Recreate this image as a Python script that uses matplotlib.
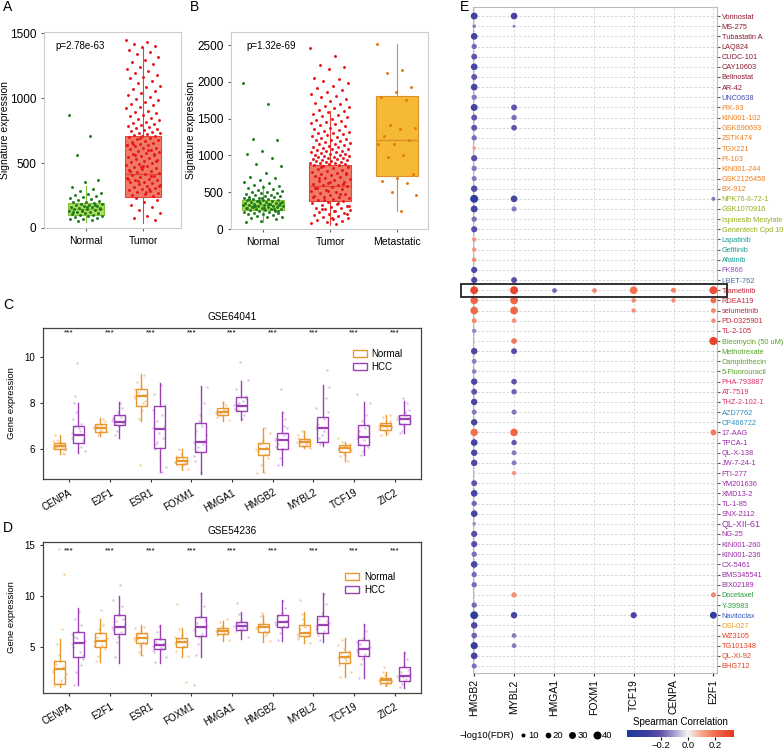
import numpy as np
import matplotlib
matplotlib.use("Agg")
import matplotlib.pyplot as plt
import matplotlib.transforms as mtransforms
from matplotlib.colors import LinearSegmentedColormap, Normalize
from matplotlib.patches import Rectangle, Patch

plt.rcParams['font.family'] = ['Liberation Sans', 'DejaVu Sans']

# ---------------- panel A / B : signature expression ----------------
a_groups = ['Normal', 'Tumor']
a_pvalue = 'p=2.78e-63'
# (whislo, q1, med, q3, whishi)
a_boxes = [(45, 100, 145, 191, 320), (40, 240, 418, 706, 1390)]
a_normal_pts = [872, 705, 560, 372, 355, 318, 300, 286, 272, 262, 251, 243, 236, 228, 221,
                214, 209, 203, 198, 193, 188, 184, 179, 174, 171, 166, 162, 158, 155, 151,
                147, 143, 139, 134, 130, 126, 122, 117, 113, 108, 103, 98, 94, 89, 84, 79,
                73, 67, 60, 52, 145, 160, 120, 180, 135]
a_tumor_pts = [1448, 1436, 1421, 1405, 1398, 1372, 1355, 1340, 1318, 1296, 1282, 1265, 1240,
               1228, 1206, 1195, 1178, 1160, 1152, 1131, 1118, 1096, 1083, 1070, 1052, 1040,
               1021, 1008, 996, 985, 972, 958, 944, 930, 921, 905, 896, 884, 872, 861, 850,
               843, 832, 820, 811, 803, 795, 786, 778, 770, 763, 755, 748, 741, 735, 729, 722,
               716, 712, 708, 702, 695, 688, 680, 673, 665, 658, 650, 643, 636, 628, 620, 613,
               606, 598, 590, 583, 575, 568, 561, 553, 546, 538, 531, 523, 516, 508, 500, 493,
               486, 478, 471, 463, 456, 448, 441, 433, 426, 418, 411, 403, 396, 388, 381, 373,
               366, 358, 351, 343, 336, 328, 321, 313, 306, 298, 291, 283, 276, 268, 261, 253,
               246, 690, 640, 600, 560, 520, 480, 440, 400, 360, 320, 280, 650, 570, 470, 380,
               300, 232, 215, 198, 176, 158, 137, 118, 96, 78, 62]

b_groups = ['Normal', 'Tumor', 'Metastatic']
b_pvalue = 'p=1.32e-69'
b_boxes = [(100, 263, 330, 400, 600), (60, 380, 580, 870, 1600), (250, 720, 1208, 1805, 2520)]
b_normal_pts = [1985, 1695, 1225, 1205, 1055, 1025, 965, 880, 855, 760, 705, 690, 660, 640, 625,
                600, 585, 570, 560, 548, 535, 522, 510, 500, 492, 485, 476, 468, 460, 452, 445,
                438, 430, 424, 418, 412, 406, 400, 395, 390, 384, 379, 374, 369, 364, 358, 353,
                348, 343, 338, 333, 328, 323, 318, 313, 308, 303, 298, 293, 288, 283, 278, 272,
                266, 260, 254, 248, 242, 236, 229, 222, 215, 207, 199, 190, 180, 170, 158, 145,
                130, 115, 100, 335, 310, 360, 290, 410, 270, 380, 320, 345, 300, 250, 420, 285]
b_tumor_pts = [2460, 2355, 2235, 2200, 2180, 2060, 2045, 2010, 1985, 1940, 1915, 1890, 1860,
               1835, 1815, 1790, 1770, 1740, 1715, 1700, 1680, 1660, 1640, 1615, 1600, 1590,
               1570, 1555, 1540, 1520, 1500, 1485, 1470, 1455, 1440, 1425, 1410, 1395, 1380,
               1365, 1350, 1338, 1325, 1312, 1300, 1288, 1275, 1262, 1250, 1240, 1228, 1216,
               1205, 1195, 1184, 1173, 1162, 1152, 1142, 1132, 1122, 1112, 1103, 1094, 1085,
               1076, 1067, 1058, 1050, 1042, 1034, 1026, 1018, 1010, 1002, 995, 988, 981, 974,
               967, 960, 953, 946, 940, 934, 928, 922, 916, 910, 904, 898, 892, 886, 880, 875,
               865, 855, 842, 830, 818, 805, 792, 780, 768, 755, 742, 730, 718, 705, 692, 680,
               668, 655, 642, 630, 618, 605, 592, 580, 568, 555, 542, 530, 518, 505, 492, 480,
               468, 455, 442, 430, 418, 405, 392, 380, 368, 355, 342, 330, 318, 305, 292, 280,
               268, 255, 242, 230, 218, 205, 192, 180, 168, 155, 140, 125, 110, 95, 80, 65,
               850, 760, 640, 560, 470, 390, 310, 240, 700, 610, 520, 430, 350, 270, 200, 150]
b_met_pts = [2520, 2160, 2120, 1935, 1865, 1800, 1760, 1420, 1380, 1365, 1265, 1210, 1160, 1150,
             1000, 975, 745, 700, 650, 620, 500, 460, 250]

# ---------------- panel C / D : gene expression ----------------
genes = ['CENPA', 'E2F1', 'ESR1', 'FOXM1', 'HMGA1', 'HMGB2', 'MYBL2', 'TCF19', 'ZIC2']
c_title = 'GSE64041'
c_normal_box = [(5.8, 6.0, 6.14, 6.25, 6.6), (6.55, 6.75, 6.9, 7.07, 7.35), (7.2, 7.86, 8.29, 8.6, 9.25),
                (5.1, 5.33, 5.48, 5.64, 6.0), (7.2, 7.48, 7.62, 7.77, 8.05), (5.01, 5.74, 6.0, 6.25, 6.91),
                (6.05, 6.14, 6.3, 6.42, 6.8), (5.5, 5.86, 6.03, 6.17, 6.3), (6.6, 6.85, 7.0, 7.15, 7.5)]
c_hcc_box = [(5.85, 6.25, 6.61, 7.0, 8.0), (6.5, 7.04, 7.19, 7.48, 8.05), (5.0, 6.04, 6.87, 7.87, 8.87),
             (4.9, 5.87, 6.32, 7.13, 8.75), (7.25, 7.65, 7.88, 8.27, 8.95), (5.3, 6.0, 6.38, 6.68, 7.61),
             (6.15, 6.32, 6.9, 7.38, 8.78), (5.74, 6.17, 6.51, 7.04, 8.06), (6.7, 7.1, 7.3, 7.5, 8.1)]
c_normal_pts = {
    'CENPA': [6.05, 6.2, 6.1, 5.95, 6.3, 6.15, 5.85, 6.4, 6.0, 6.25, 6.6, 5.8, 6.12, 6.35, 6.08],
    'E2F1': [6.9, 6.8, 7.0, 7.1, 6.85, 6.95, 7.3, 6.6, 6.75, 7.05, 6.92, 7.2, 6.7, 6.98],
    'ESR1': [8.3, 8.0, 8.5, 7.9, 8.7, 8.2, 9.2, 7.3, 8.4, 7.7, 8.9, 8.1, 5.3, 8.6, 8.35],
    'FOXM1': [5.45, 5.35, 5.6, 5.5, 5.25, 5.7, 5.4, 6.0, 5.15, 5.55, 5.3, 5.5, 5.8, 5.42],
    'HMGA1': [7.6, 7.7, 7.5, 7.8, 7.65, 7.4, 7.9, 7.55, 7.25, 8.05, 7.62, 7.72, 7.48, 7.58],
    'HMGB2': [6.0, 5.8, 6.2, 5.6, 6.4, 5.9, 6.1, 5.3, 6.7, 5.0, 6.05, 5.75, 6.25, 4.95, 6.9],
    'MYBL2': [6.3, 6.2, 6.4, 6.35, 6.1, 6.5, 6.25, 6.8, 6.05, 6.45, 6.28, 6.38, 6.15, 6.6],
    'TCF19': [6.0, 6.1, 5.9, 6.2, 5.8, 6.05, 5.5, 6.3, 5.95, 6.15, 5.7, 6.02, 6.12, 6.5],
    'ZIC2': [7.0, 6.9, 7.1, 7.2, 6.8, 7.05, 6.7, 7.4, 6.95, 7.15, 6.6, 7.5, 7.02, 6.88],
}
c_hcc_pts = {
    'CENPA': [6.5, 6.8, 7.0, 6.3, 6.6, 7.3, 6.1, 7.6, 5.9, 6.9, 8.0, 6.4, 9.75, 6.7, 7.1, 8.3],
    'E2F1': [7.2, 7.4, 7.1, 7.5, 7.0, 7.3, 7.8, 6.8, 7.25, 8.0, 6.6, 7.15, 7.6, 7.35],
    'ESR1': [6.9, 7.5, 6.2, 7.9, 5.6, 8.4, 6.5, 7.2, 5.2, 8.8, 6.0, 7.0, 6.7, 7.7, 5.0, 6.3],
    'FOXM1': [6.3, 7.0, 5.9, 6.6, 7.5, 5.5, 8.0, 6.1, 8.7, 5.0, 6.8, 6.4, 7.2, 5.7, 6.2],
    'HMGA1': [7.9, 8.1, 7.7, 8.3, 7.85, 8.6, 7.5, 8.0, 9.0, 7.3, 7.95, 8.2, 9.8, 7.75],
    'HMGB2': [6.4, 6.6, 6.2, 6.9, 6.0, 6.5, 7.3, 5.6, 6.35, 7.6, 5.3, 6.7, 8.6, 6.1, 7.0],
    'MYBL2': [6.9, 7.3, 6.5, 7.6, 6.3, 7.0, 8.2, 6.2, 8.7, 6.8, 7.1, 9.45, 6.6, 7.8],
    'TCF19': [6.5, 6.9, 6.2, 7.0, 5.9, 6.6, 7.5, 5.75, 8.0, 6.4, 6.8, 6.1, 7.2, 8.4],
    'ZIC2': [7.3, 7.5, 7.1, 7.7, 7.0, 7.4, 8.0, 6.8, 7.2, 7.6, 6.7, 7.35, 8.2, 7.45],
}

d_title = 'GSE54236'
d_normal_box = [(1.1, 1.37, 2.81, 3.63, 5.75), (3.56, 5.03, 5.62, 6.34, 7.8), (4.2, 5.36, 5.85, 6.34, 7.15),
                (4.0, 5.03, 5.46, 5.85, 6.9), (5.6, 6.27, 6.6, 6.9, 7.6), (5.52, 6.5, 6.93, 7.3, 8.14),
                (5.36, 6.08, 6.34, 7.16, 8.46), (2.09, 3.46, 4.05, 4.54, 5.9), (1.2, 1.5, 1.8, 2.0, 2.6)]
d_hcc_box = [(1.27, 4.05, 5.42, 6.5, 8.8), (3.46, 6.27, 7.0, 8.1, 10.0), (3.46, 4.77, 5.2, 5.75, 7.15),
             (4.0, 6.08, 6.93, 7.97, 10.26), (5.75, 6.67, 7.1, 7.48, 8.46), (5.6, 6.99, 7.48, 8.1, 9.6),
             (5.52, 6.34, 7.16, 8.04, 10.26), (1.93, 4.12, 4.8, 5.69, 7.25), (1.0, 1.7, 2.2, 3.0, 4.5)]
d_normal_pts = {
    'CENPA': [2.8, 1.5, 3.3, 2.0, 4.2, 1.2, 3.0, 5.3, 2.4, 1.8, 3.6, 12.2, 14.6, 2.6, 6.8, 1.4],
    'E2F1': [5.6, 5.2, 6.0, 4.8, 6.4, 5.4, 7.2, 4.1, 5.9, 8.6, 3.6, 5.7, 6.8, 5.1],
    'ESR1': [5.9, 5.5, 6.2, 5.3, 6.6, 5.7, 7.0, 4.5, 6.0, 4.2, 5.8, 6.4, 5.1, 6.9],
    'FOXM1': [5.4, 5.1, 5.8, 5.3, 6.2, 4.6, 5.6, 6.8, 4.1, 5.0, 9.2, 1.6, 5.5, 6.0],
    'HMGA1': [6.6, 6.4, 6.8, 6.5, 7.1, 6.2, 6.7, 7.5, 5.7, 6.9, 6.3, 7.8, 6.55],
    'HMGB2': [6.9, 6.6, 7.2, 6.5, 7.5, 6.8, 6.2, 8.0, 5.6, 7.0, 7.3, 6.4, 8.3, 6.95],
    'MYBL2': [6.3, 6.1, 6.8, 6.2, 7.4, 5.8, 6.5, 8.2, 5.4, 7.0, 9.6, 6.35, 7.8, 6.0],
    'TCF19': [4.0, 3.6, 4.4, 3.5, 4.9, 3.2, 4.2, 5.7, 2.6, 3.8, 2.1, 4.6, 3.9, 5.2],
    'ZIC2': [1.8, 1.6, 2.0, 1.5, 2.3, 1.4, 1.9, 2.6, 1.7, 1.3, 2.1, 1.85, 3.0],
}
d_hcc_pts = {
    'CENPA': [5.3, 4.5, 6.0, 3.8, 6.6, 5.0, 7.2, 2.6, 5.6, 8.4, 1.3, 4.2, 5.9, 6.3, 3.2, 7.8],
    'E2F1': [7.0, 6.5, 7.6, 6.3, 8.2, 6.8, 9.0, 5.5, 7.3, 11.1, 4.0, 7.8, 6.0, 9.6],
    'ESR1': [5.1, 4.8, 5.5, 4.9, 5.8, 4.5, 5.2, 6.5, 4.0, 5.0, 3.5, 5.4, 7.1, 4.7],
    'FOXM1': [6.8, 6.3, 7.4, 6.1, 8.0, 6.6, 9.0, 5.3, 7.1, 10.3, 4.2, 7.7, 6.0, 1.3],
    'HMGA1': [7.1, 6.8, 7.4, 6.9, 7.6, 6.6, 7.2, 8.2, 6.0, 7.0, 9.3, 7.5, 6.75],
    'HMGB2': [7.5, 7.1, 8.0, 7.0, 8.3, 7.3, 8.8, 6.4, 7.7, 9.5, 5.7, 7.6, 6.9, 7.2],
    'MYBL2': [7.1, 6.6, 7.8, 6.4, 8.3, 6.9, 9.2, 5.7, 7.4, 10.2, 6.2, 7.6, 8.0, 6.8],
    'TCF19': [4.7, 4.3, 5.3, 4.1, 5.9, 4.5, 6.6, 3.3, 5.0, 7.2, 2.0, 4.9, 3.8, 5.5],
    'ZIC2': [2.2, 1.9, 2.6, 1.7, 3.1, 2.0, 3.8, 1.4, 2.4, 4.4, 1.1, 2.8, 2.1],
}

# ---------------- panel E : drug correlation dot plot ----------------
e_genes = ['HMGB2', 'MYBL2', 'HMGA1', 'FOXM1', 'TCF19', 'CENPA', 'E2F1']
drugs = ['Vorinostat', 'MS-275', 'Tubastatin A', 'LAQ824', 'CUDC-101', 'CAY10603', 'Belinostat',
         'AR-42', 'UNC0638', 'PIK-93', 'KIN001-102', 'GSK690693', 'ZSTK474', 'TGX221', 'PI-103',
         'KIN001-244', 'GSK2126458', 'BX-912', 'NPK76-II-72-1', 'GSK1070916', 'Ispinesib Mesylate',
         'Genentech Cpd 10', 'Lapatinib', 'Gefitinib', 'Afatinib', 'FK866', 'I-BET-762', 'Trametinib',
         'RDEA119', 'selumetinib', 'PD-0325901', 'TL-2-105', 'Bleomycin (50 uM)', 'Methotrexate',
         'Camptothecin', '5-Fluorouracil', 'PHA-793887', 'AT-7519', 'THZ-2-102-1', 'AZD7762',
         'CP466722', '17-AAG', 'TPCA-1', 'QL-X-138', 'JW-7-24-1', 'FTI-277', 'YM201636', 'XMD13-2',
         'TL-1-85', 'SNX-2112', 'QL-XII-61', 'NG-25', 'KIN001-260', 'KIN001-236', 'CX-5461',
         'BMS345541', 'BIX02189', 'Docetaxel', 'Y-39983', 'Navitoclax', 'OSI-027', 'WZ3105',
         'TG101348', 'QL-XI-92', 'BHG712']
# drug -> (spearman rho, -log10 FDR)
hmgb2_hits = {
    'Vorinostat': (-0.28, 30), 'MS-275': (-0.15, 8), 'Tubastatin A': (-0.27, 28), 'LAQ824': (-0.17, 18),
    'CUDC-101': (-0.2, 22), 'CAY10603': (-0.26, 28), 'Belinostat': (-0.2, 22), 'AR-42': (-0.27, 28),
    'UNC0638': (-0.15, 18), 'PIK-93': (-0.27, 30), 'KIN001-102': (-0.2, 22), 'GSK690693': (-0.2, 22),
    'ZSTK474': (-0.16, 18), 'TGX221': (0.12, 8), 'PI-103': (-0.22, 24), 'KIN001-244': (-0.15, 18),
    'GSK2126458': (-0.15, 16), 'BX-912': (-0.24, 26), 'NPK76-II-72-1': (-0.38, 40),
    'GSK1070916': (-0.27, 30), 'Ispinesib Mesylate': (-0.16, 18), 'Genentech Cpd 10': (-0.22, 24),
    'Lapatinib': (0.13, 12), 'Gefitinib': (0.13, 12), 'Afatinib': (0.14, 13), 'FK866': (-0.25, 24),
    'I-BET-762': (-0.25, 24), 'Trametinib': (0.3, 38), 'RDEA119': (0.22, 36), 'selumetinib': (0.22, 36),
    'PD-0325901': (0.15, 15), 'TL-2-105': (-0.13, 12), 'Methotrexate': (-0.26, 26),
    'Camptothecin': (-0.14, 15), '5-Fluorouracil': (-0.13, 14), 'PHA-793887': (-0.26, 26),
    'AT-7519': (-0.2, 22), 'THZ-2-102-1': (-0.26, 26), 'AZD7762': (-0.15, 16), 'CP466722': (-0.26, 26),
    '17-AAG': (0.2, 34), 'TPCA-1': (-0.28, 28), 'QL-X-138': (-0.26, 26), 'JW-7-24-1': (-0.25, 26),
    'YM201636': (-0.2, 22), 'XMD13-2': (-0.27, 28), 'TL-1-85': (-0.17, 18), 'SNX-2112': (-0.27, 28),
    'QL-XII-61': (-0.12, 8), 'NG-25': (-0.22, 24), 'KIN001-260': (-0.22, 24), 'KIN001-236': (-0.16, 18),
    'CX-5461': (-0.26, 28), 'BMS345541': (-0.17, 18), 'BIX02189': (-0.17, 18), 'Y-39983': (-0.17, 18),
    'Navitoclax': (-0.38, 38), 'OSI-027': (-0.25, 26), 'WZ3105': (-0.18, 20), 'TG101348': (-0.33, 32),
    'QL-XI-92': (-0.27, 28), 'BHG712': (-0.16, 16),
}
mybl2_hits = {
    'Vorinostat': (-0.27, 28), 'MS-275': (-0.15, 5), 'PIK-93': (-0.2, 22), 'KIN001-102': (-0.16, 18),
    'GSK690693': (-0.2, 20), 'NPK76-II-72-1': (-0.27, 28), 'GSK1070916': (-0.15, 16),
    'I-BET-762': (-0.22, 22), 'Trametinib': (0.3, 40), 'RDEA119': (0.22, 38), 'selumetinib': (0.22, 38),
    'PD-0325901': (0.14, 13), 'Bleomycin (50 uM)': (0.18, 20), 'Methotrexate': (-0.22, 22),
    'PHA-793887': (-0.2, 20), 'AT-7519': (-0.18, 18), 'AZD7762': (-0.15, 16), '17-AAG': (0.22, 36),
    'TPCA-1': (-0.2, 18), 'QL-X-138': (-0.15, 15), 'JW-7-24-1': (-0.15, 15), 'FTI-277': (0.13, 12),
    'Docetaxel': (0.14, 18), 'Navitoclax': (-0.27, 26), 'WZ3105': (-0.15, 14), 'TG101348': (-0.15, 14),
}
hmga1_hits = {'Trametinib': (-0.17, 14)}
foxm1_hits = {'Trametinib': (0.15, 14)}
tcf19_hits = {'Trametinib': (0.2, 36), 'RDEA119': (0.15, 13), 'selumetinib': (0.14, 12),
              'Navitoclax': (-0.26, 24)}
cenpa_hits = {'Trametinib': (0.16, 16), 'RDEA119': (0.14, 12)}
e2f1_hits = {'NPK76-II-72-1': (-0.15, 10), 'Trametinib': (0.28, 40), 'RDEA119': (0.2, 22),
             'selumetinib': (0.16, 14), 'PD-0325901': (0.15, 12), 'Bleomycin (50 uM)': (0.3, 42),
             '17-AAG': (0.18, 22), 'Docetaxel': (0.15, 16), 'Navitoclax': (-0.35, 30)}
e_hits = [hmgb2_hits, mybl2_hits, hmga1_hits, foxm1_hits, tcf19_hits, cenpa_hits, e2f1_hits]
fdr_legend = [10, 20, 30, 40]
cbar_ticks = [-0.2, 0.0, 0.2]
highlight_drug = 'Trametinib'

# label colours per drug class
drug_colors = (['#8b1a2e'] * 8 + ['#4b4bb0'] + ['#f07f1e'] * 9 + ['#9aae1c'] * 4 + ['#1a9e96'] * 3
               + ['#9b4fc4', '#4a6aa8'] + ['#c8283c'] * 5 + ['#5aa02c'] * 4 + ['#d6306e'] * 3
               + ['#2a8fc4'] * 2 + ['#9c2aa6'] * 16 + ['#2e9e3e'] * 2 + ['#3c5cc0', '#f0a018']
               + ['#e0401e'] * 4)


def spread(n, half):
    # deterministic jitter offsets
    return ((np.arange(n) * 0.6180339887) % 1.0 - 0.5) * 2 * half


def px(l, t, r, b):
    W, H = 784.0, 752.0
    return [l / W, 1 - b / H, (r - l) / W, (b - t) / H]


fig = plt.figure(figsize=(7.84, 7.52), dpi=100)


def sig_panel(ax, groups, boxes, pts, fills, edges, pcols, ylim, yticks, ptext):
    for i in range(len(groups)):
        lo, q1, med, q3, hi = boxes[i]
        ax.bxp([dict(whislo=lo, q1=q1, med=med, q3=q3, whishi=hi, fliers=[])], positions=[i + 1],
               widths=0.62, showcaps=False, patch_artist=True, manage_ticks=False,
               boxprops=dict(facecolor=fills[i], edgecolor=edges[i], lw=0.8),
               whiskerprops=dict(color=edges[i], lw=0.8),
               medianprops=dict(color=edges[i], lw=1.0))
        y = np.array(pts[i])
        ax.scatter(i + 1 + spread(len(y), 0.3), y, s=4.5, color=pcols[i], lw=0, zorder=3)
    ax.set_ylim(*ylim)
    ax.set_yticks(yticks)
    ax.set_xticks(range(1, len(groups) + 1))
    ax.set_xticklabels(groups, fontsize=7.5)
    ax.tick_params(axis='y', labelsize=8.5, length=2, color='#666666')
    ax.tick_params(axis='x', length=2, color='#666666')
    for sp in ax.spines.values():
        sp.set_color('#cccccc')
        sp.set_linewidth(0.8)
    ax.set_ylabel('Signature expression', fontsize=7.5)
    ax.text(0.08, 0.93, ptext, transform=ax.transAxes, fontsize=7, va='center')


axA = fig.add_axes(px(44, 32, 181, 228))
sig_panel(axA, a_groups, a_boxes, [a_normal_pts, a_tumor_pts],
          ['#b3dd5c', '#f07a66'], ['#7fbf3a', '#e8453a'], ['#1e7b1e', '#e8161b'],
          (0, 1510), [0, 500, 1000, 1500], a_pvalue)
axA.set_xlim(0.27, 2.66)
axA.yaxis.set_label_coords(-0.245, 0.5)

axB = fig.add_axes(px(231, 32, 428, 229))
sig_panel(axB, b_groups, b_boxes, [b_normal_pts, b_tumor_pts, b_met_pts],
          ['#b3dd5c', '#f07a66', '#f5b935'], ['#7fbf3a', '#e8453a', '#d9902a'],
          ['#1e7b1e', '#e8161b', '#e07a12'],
          (0, 2680), [0, 500, 1000, 1500, 2000, 2500], b_pvalue)
axB.set_xlim(0.52, 3.46)
axB.yaxis.set_label_coords(-0.18, 0.5)


def expr_panel(ax, title, nbox, hbox, npts, hpts, ylim, yticks, star_y, leg_anchor):
    n_col, h_col = '#e8962e', '#9b3fb5'
    for i, g in enumerate(genes):
        for off, st, p, col, pcol in ((-0.23, nbox[i], npts[g], n_col, '#f3b067'),
                                      (0.23, hbox[i], hpts[g], h_col, '#c59ad9')):
            pos = i + 1 + off
            y = np.array(p)
            ax.scatter(pos + spread(len(y), 0.17), y, s=3, color=pcol, alpha=0.6, lw=0, zorder=1)
            lo, q1, med, q3, hi = st
            ax.bxp([dict(whislo=lo, q1=q1, med=med, q3=q3, whishi=hi, fliers=[])], positions=[pos],
                   widths=0.27, showcaps=False, patch_artist=True, manage_ticks=False,
                   boxprops=dict(facecolor='none', edgecolor=col, lw=1.0),
                   whiskerprops=dict(color=col, lw=1.0),
                   medianprops=dict(color=col, lw=1.6))
    trans = mtransforms.blended_transform_factory(ax.transData, ax.transAxes)
    for i in range(len(genes)):
        ax.text(i + 1, star_y, '***', transform=trans, ha='center', va='center', fontsize=6)
    ax.set_xlim(0.36, 9.64)
    ax.set_ylim(*ylim)
    ax.set_yticks(yticks)
    ax.set_xticks(range(1, len(genes) + 1))
    ax.set_xticklabels(genes, rotation=30, ha='right', rotation_mode='anchor', fontsize=7.2)
    ax.tick_params(axis='both', length=2.5, color='#333333', labelsize=7)
    for sp in ax.spines.values():
        sp.set_color('#444444')
        sp.set_linewidth(0.9)
    ax.set_title(title, fontsize=7.2, pad=6)
    ax.set_ylabel('Gene expression', fontsize=6.8)
    ax.yaxis.set_label_coords(-0.071, 0.5)
    handles = [Patch(facecolor='white', edgecolor=n_col, lw=1.0, label='Normal'),
               Patch(facecolor='white', edgecolor=h_col, lw=1.0, label='HCC')]
    ax.legend(handles=handles, loc='upper left', bbox_to_anchor=leg_anchor, frameon=False,
              fontsize=7, handlelength=1.4, handleheight=0.75, handletextpad=0.5,
              labelspacing=0.25, borderaxespad=0, borderpad=0)


axC = fig.add_axes(px(43, 328, 421, 479))
expr_panel(axC, c_title, c_normal_box, c_hcc_box, c_normal_pts, c_hcc_pts,
           (4.7, 11.26), [6, 8, 10], 0.967, (0.82, 0.86))

axD = fig.add_axes(px(43, 542, 421, 693))
expr_panel(axD, d_title, d_normal_box, d_hcc_box, d_normal_pts, d_hcc_pts,
           (0.5, 15.3), [5, 10, 15], 0.94, (0.80, 0.80))

# ---------------- panel E ----------------
cmap = LinearSegmentedColormap.from_list('rho', [
    (0.0, '#203a9c'), (0.19, '#3c3f9e'), (0.316, '#5f54aa'), (0.443, '#a79ed2'),
    (0.57, '#f5f5f5'), (0.696, '#f7a690'), (0.823, '#f0704f'), (1.0, '#e5361f')])
norm = Normalize(-0.45, 0.34)


def dot_size(f):
    return 0.83 * np.asarray(f, dtype=float)


axE = fig.add_axes(px(473, 7, 717, 673))
row_of = {d: i + 1 for i, d in enumerate(drugs)}
for j, hits in enumerate(e_hits):
    ys = [row_of[d] for d in hits]
    rs = [hits[d][0] for d in hits]
    fs = [hits[d][1] for d in hits]
    axE.scatter([j + 1] * len(ys), ys, s=dot_size(fs), c=rs, cmap=cmap, norm=norm,
                lw=0, zorder=3, clip_on=False)
axE.set_xlim(0.97, 7.09)
axE.set_ylim(65.69, 0.11)
axE.set_xticks(range(1, len(e_genes) + 1))
axE.set_xticklabels(e_genes, rotation=90, fontsize=7.5)
axE.set_yticks(range(1, len(drugs) + 1))
axE.yaxis.tick_right()
axE.set_yticklabels(drugs, fontsize=5.3)
for lab, col in zip(axE.get_yticklabels(), drug_colors):
    lab.set_color(col)
    if lab.get_text() == 'QL-XII-61':
        lab.set_fontsize(6.5)
axE.tick_params(axis='y', length=2, pad=1.5, color='#555555')
axE.tick_params(axis='x', length=2.5, pad=2, color='#222222')
axE.grid(True, ls=(0, (3, 2)), color='#d3d3d3', lw=0.6)
axE.set_axisbelow(True)
for sp in axE.spines.values():
    sp.set_color('#bbbbbb')
    sp.set_linewidth(0.8)
hr = row_of[highlight_drug]
axE.add_patch(Rectangle((0.67, hr - 0.64), 6.67, 1.28, fill=False, lw=1.3, ec='#222222',
                        clip_on=False, zorder=5))

# colour bar
cax = fig.add_axes(px(627, 730, 734, 737))
grad = np.linspace(-0.45, 0.34, 256)
cax.imshow(grad[None, :], aspect='auto', cmap=cmap, norm=norm, extent=[-0.45, 0.34, 0, 1])
cax.set_yticks([])
cax.set_xticks(cbar_ticks)
cax.set_xticklabels(['\u22120.2', '0.0', '0.2'], fontsize=6.8)
cax.tick_params(axis='x', length=2, pad=1)
for sp in cax.spines.values():
    sp.set_visible(False)
cax.text(0.5, 1.45, 'Spearman Correlation', transform=cax.transAxes, ha='center', va='bottom',
         fontsize=7)

# overlay for panel letters and the size legend
lay = fig.add_axes([0, 0, 1, 1])
lay.set_xlim(0, 784)
lay.set_ylim(752, 0)
lay.axis('off')
for letter, x, y in (('A', 3, 7), ('B', 190, 7), ('C', 3, 305), ('D', 3, 528), ('E', 460, 7)):
    lay.text(x, y, letter, fontsize=10, va='center', ha='left')
lay.text(460, 735, '\u2212log10(FDR)', fontsize=6.8, va='center', ha='left')
for k, v in enumerate(fdr_legend):
    xx = 523 + k * 24.7
    lay.scatter([xx], [735], s=dot_size(v), color='black', lw=0)
    lay.text(xx + 5, 735, str(v), fontsize=6.8, va='center', ha='left')

fig.savefig('out.png', dpi=100)
